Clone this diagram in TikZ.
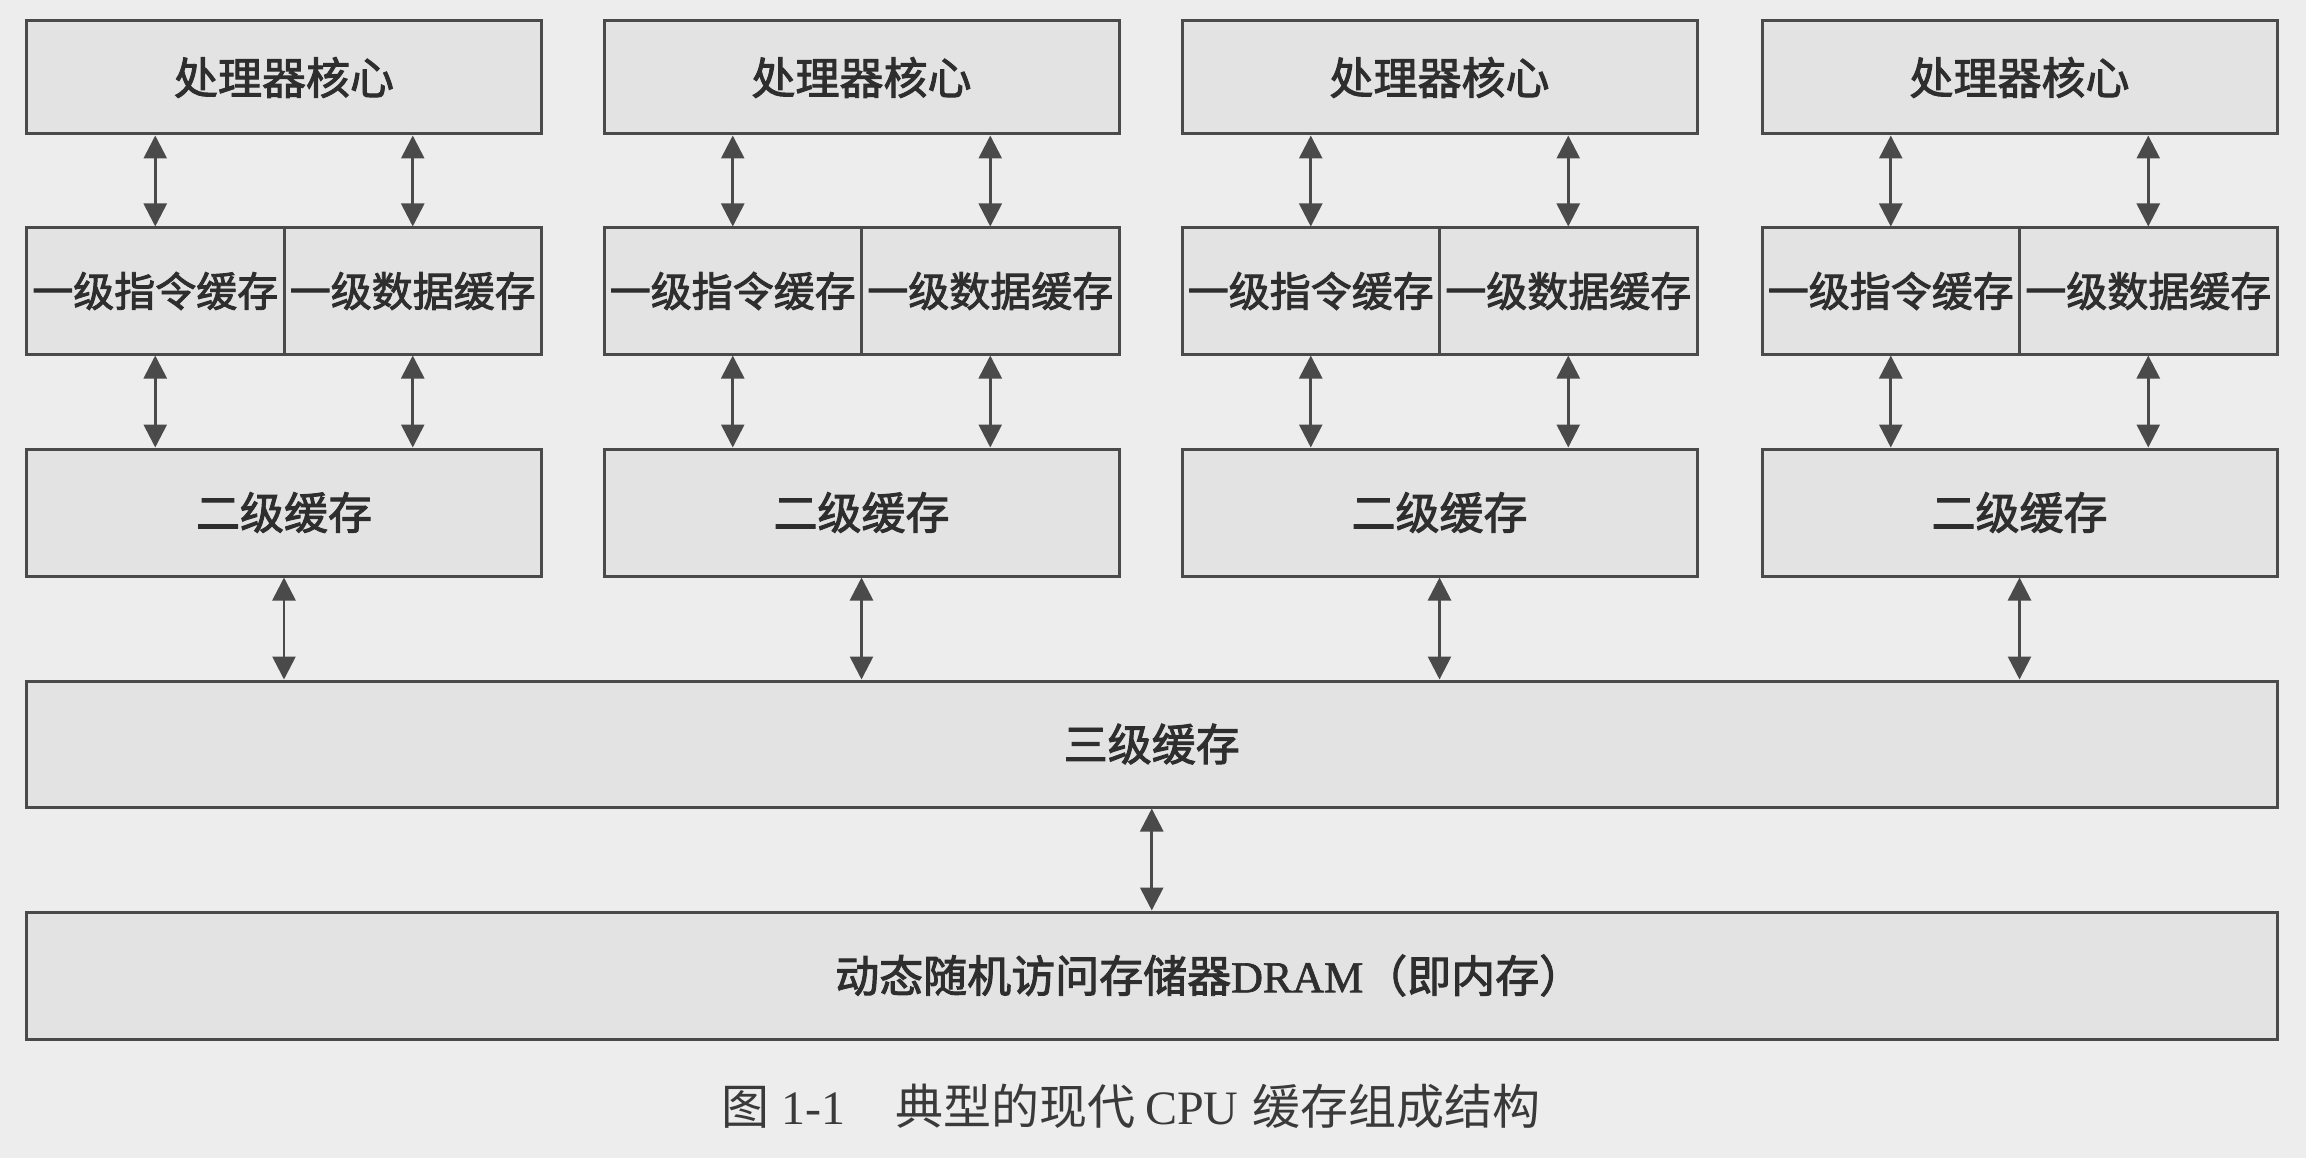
\documentclass[tikz,border=0pt]{standalone}
\usepackage{fontspec}
\setmainfont{Liberation Serif}
\newfontfamily\cjk[FakeBold=2.2]{Noto Sans CJK SC}
\newfontfamily\cjklight{Noto Sans CJK SC}
\newfontfamily\latinb[FakeBold=1.5]{Liberation Serif}
\usetikzlibrary{arrows.meta}

\definecolor{paper}{HTML}{EDEDED}
\definecolor{boxfill}{HTML}{E3E3E3}
\definecolor{ink}{HTML}{4A4A4A}
\definecolor{txt}{HTML}{2E2E2E}
\definecolor{captxt}{HTML}{3A3A3A}

\begin{document}
\begin{tikzpicture}[x=1pt,y=-1pt,
  box/.style={rectangle, draw=ink, line width=3pt, fill=boxfill, inner sep=0pt,
    text=txt, font=\fontsize{44}{50}\selectfont\cjk},
  corebox/.style={box, minimum width=515pt, minimum height=113pt},
  halfbox/.style={box, minimum width=257.5pt, minimum height=126pt,
    font=\fontsize{41}{48}\selectfont\cjk},
  l2box/.style={box, minimum width=515pt, minimum height=127pt},
  widebox/.style={box, minimum width=2250.5pt, minimum height=126pt},
  lbl/.style={inner sep=0pt, text=txt, font=\fontsize{44}{50}\selectfont\cjk},
  dbl/.style={draw=ink, line width=2.7pt,
    {Triangle[length=23pt,width=23pt]}-{Triangle[length=23pt,width=23pt]}}
]
\useasboundingbox (0,0) rectangle (2306,1158);
\fill[paper] (0,0) rectangle (2306,1158);

% shared levels
\node[widebox] (l3) at (1151.75,744) {三级缓存};
\node[widebox, minimum height=127pt] (dram) at (1151.75,975.5) {};
\node[lbl, anchor=west] (dramtxt) at (835,975.5)
  {动态随机访问存储器{\latinb DRAM}（即内存）};

% one column per core
\foreach \i/\X in {1/26.5, 2/604, 3/1182, 4/1762}{
  \node[corebox] (c\i) at ({\X+257.5},77.5) {处理器核心};
  \node[halfbox] (la\i) at ({\X+128.75},291) {一级指令缓存};
  \node[halfbox] (lb\i) at ({\X+386.25},291) {一级数据缓存};
  \node[l2box]   (m\i)  at ({\X+257.5},512.5) {二级缓存};
  \draw[dbl] (la\i.north |- c\i.south) -- (la\i.north);
  \draw[dbl] (lb\i.north |- c\i.south) -- (lb\i.north);
  \draw[dbl] (la\i.south) -- (la\i.south |- m\i.north);
  \draw[dbl] (lb\i.south) -- (lb\i.south |- m\i.north);
  \draw[dbl] (m\i.south) -- (m\i.south |- l3.north);
}
\draw[dbl] (l3.south) -- (dram.north);

% figure caption
\node[anchor=west, inner sep=0pt, text=captxt, font=\fontsize{48}{56}\selectfont]
  (cap) at (721,1106)
  {{\cjklight 图}\hspace{12pt}1-1\hspace{50pt}{\cjklight 典型的现代}\hspace{10pt}CPU\hspace{14pt}{\cjklight 缓存组成结构}};
\end{tikzpicture}
\end{document}
